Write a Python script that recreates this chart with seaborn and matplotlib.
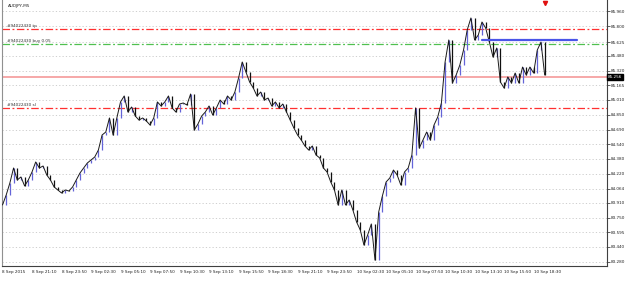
import matplotlib
matplotlib.use("Agg")
import matplotlib.pyplot as plt
import matplotlib.transforms as mtransforms
import seaborn as sns
import numpy as np
import pandas as pd

# ---- data ----
symbol_label = "AUDJPY,M5"
bars_per_sample = 4  # one value every 4 M5 bars (20 minutes)
closes = [
    83.889, 83.995, 84.124, 84.284, 84.156, 84.188, 84.092, 84.156, 84.241, 84.348,
    84.284, 84.305, 84.209, 84.156, 84.081, 84.049, 84.017, 84.049, 84.038, 84.081,
    84.156, 84.230, 84.284, 84.337, 84.369, 84.401, 84.476, 84.636, 84.668, 84.818,
    84.636, 84.818, 84.989, 85.053, 84.882, 84.935, 84.839, 84.796, 84.818, 84.786,
    84.743, 84.818, 84.989, 84.946, 84.989, 85.053, 84.925, 84.882, 84.967, 84.978,
    84.957, 85.074, 84.690, 84.754, 84.839, 84.882, 84.946, 84.850, 84.925, 85.010,
    84.967, 85.053, 85.010, 85.095, 85.245, 85.416, 85.309, 85.202, 85.138, 85.053,
    85.095, 85.010, 85.031, 84.946, 84.989, 84.925, 84.967, 84.882, 84.796, 84.711,
    84.636, 84.583, 84.519, 84.476, 84.519, 84.423, 84.391, 84.284, 84.241, 84.134,
    84.049, 83.889, 84.049, 83.889, 83.942, 83.835, 83.707, 83.622, 83.461, 83.568,
    83.686, 83.300, 83.814, 83.985, 84.134, 84.177, 84.262, 84.209, 84.102, 84.241,
    84.284, 84.423, 84.925, 84.497, 84.583, 84.668, 84.583, 84.743, 84.828, 84.978,
    85.416, 85.651, 85.192, 85.277, 85.384, 85.544, 85.758, 85.886, 85.651, 85.704,
    85.843, 85.779, 85.629, 85.469, 85.565, 85.202, 85.138, 85.256, 85.192, 85.298,
    85.192, 85.362, 85.277, 85.362, 85.298, 85.544, 85.629, 85.277,
]
time_labels = ["8 Sep 2015", "8 Sep 21:10", "8 Sep 23:50", "9 Sep 02:30", "9 Sep 05:10",
               "9 Sep 07:50", "9 Sep 10:30", "9 Sep 13:10", "9 Sep 15:50", "9 Sep 18:30",
               "9 Sep 21:10", "9 Sep 23:50", "10 Sep 02:30", "10 Sep 05:10", "10 Sep 07:50",
               "10 Sep 10:30", "10 Sep 13:10", "10 Sep 15:50", "10 Sep 18:30"]
bars_per_time_label = 32
price_ticks = [85.960, 85.800, 85.625, 85.480, 85.320, 85.165, 85.010, 84.850, 84.690,
               84.540, 84.380, 84.220, 84.064, 83.910, 83.750, 83.595, 83.440, 83.280]
order_tp = 85.770
order_open = 85.610
order_sl = 84.925
bid_price = 85.256
bid_label = "85.256"
trend_start_bar, trend_end_bar, trend_price = 520, 623, 85.651
order_names = ["#94022430 tp", "#94022430 buy 0.05", "#94022430 sl"]

# ---- figure ----
sns.set_style("white")
plt.rcParams['font.family'] = ['DejaVu Sans']
fig = plt.figure(figsize=(6.25, 2.81), dpi=100)
ax = fig.add_axes([2/625, 15/281, 605/625, 266/281])

df = pd.DataFrame({"bar": np.arange(len(closes)) * bars_per_sample, "close": closes})

# grid
for t in price_ticks:
    ax.axhline(t, color="#c8c8c8", lw=0.6, ls=(0, (1.5, 2.5)), zorder=0)

# candle-like vertical moves
opens = [closes[0]] + closes[:-1]
for b, o, c in zip(df["bar"], opens, closes):
    col = "#6464d8" if c >= o else "#101010"
    ax.vlines(b, min(o, c), max(o, c), color=col, lw=0.9, zorder=3)
sns.lineplot(data=df, x="bar", y="close", ax=ax, color="#1a1a1a", lw=0.7, zorder=4)

# order lines
ax.axhline(order_tp, color="#ff3030", lw=0.9, ls=(0, (6, 2, 1.5, 2)), zorder=2)
ax.axhline(order_open, color="#50c050", lw=0.9, ls=(0, (6, 2, 1.5, 2)), zorder=2)
ax.axhline(order_sl, color="#ff3030", lw=0.9, ls=(0, (6, 2, 1.5, 2)), zorder=2)
ax.axhline(bid_price, color="#f59a9a", lw=1.2, zorder=2)
ax.plot([trend_start_bar, trend_end_bar], [trend_price, trend_price], color="#4a55e8", lw=1.6, zorder=5)

blend = mtransforms.blended_transform_factory(ax.transAxes, ax.transData)
for name, p in zip(order_names, [order_tp, order_open, order_sl]):
    ax.text(0.008, p + 0.012, name, transform=blend, fontsize=3, color="#303030", va="bottom", ha="left")
ax.text(0.01, 0.985, symbol_label, transform=ax.transAxes, fontsize=3, color="#202020", va="top", ha="left")

# red arrow at top for last bar
blend2 = mtransforms.blended_transform_factory(ax.transData, ax.transAxes)
ax.plot([df["bar"].iloc[-1]], [0.99], marker="v", color="#e01010", ms=3, transform=blend2, clip_on=False)

# axes
ax.set_xlim(-0.54, 655.6)
ax.set_ylim(83.237, 86.078)
ax.yaxis.tick_right()
ax.set_yticks(price_ticks)
ax.set_yticklabels([f"{v:.3f}" for v in price_ticks], fontsize=3, color="#202020")
xt = [i * bars_per_time_label for i in range(len(time_labels))]
ax.set_xticks(xt)
ax.set_xticklabels(time_labels, fontsize=3, color="#202020", ha="left")
ax.tick_params(axis="y", length=2, width=0.5, pad=1, right=True, left=False, colors="#202020")
ax.tick_params(axis="x", length=2, width=0.5, pad=1, colors="#202020")
ax.set_xlabel("")
ax.set_ylabel("")
ax.spines["top"].set_visible(False)
ax.spines["left"].set_color("#909090")
ax.spines["right"].set_color("#404040")
ax.spines["bottom"].set_color("#404040")
for s in ax.spines.values():
    s.set_linewidth(0.8)

ax.text(1.002, bid_price, bid_label, transform=blend, fontsize=3, color="white", va="center", ha="left",
        bbox=dict(boxstyle="square,pad=0.2", fc="black", ec="black"))

fig.savefig("out.png", dpi=100)
